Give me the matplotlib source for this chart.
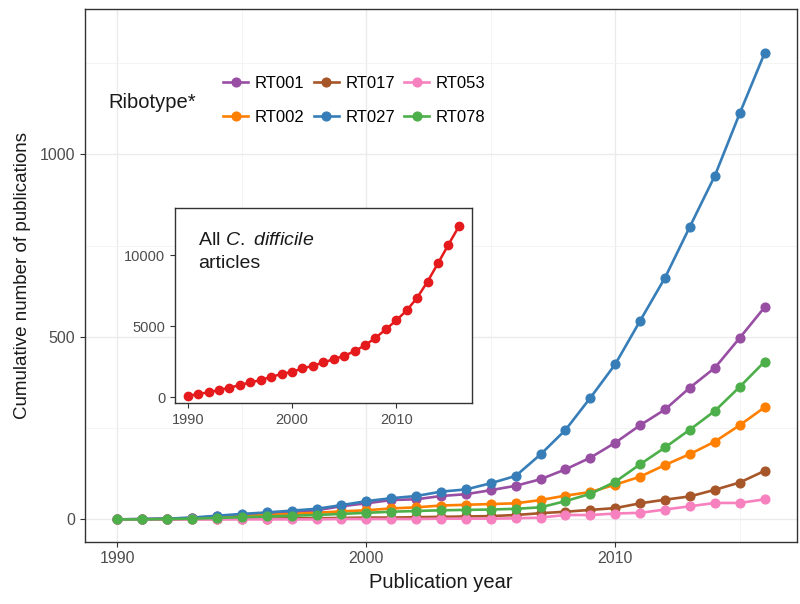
import matplotlib
matplotlib.use("Agg")
import matplotlib.pyplot as plt
from matplotlib.ticker import MultipleLocator

plt.rcParams["font.family"] = ["Liberation Sans", "DejaVu Sans"]
plt.rcParams["mathtext.fontset"] = "custom"
plt.rcParams["mathtext.rm"] = "Liberation Sans"
plt.rcParams["mathtext.it"] = "Liberation Sans:italic"

years = list(range(1990, 2017))

ribotypes = ["RT001", "RT002", "RT017", "RT027", "RT053", "RT078"]
colors = ["#984EA3", "#FF7F00", "#A65628", "#377EB8", "#F781BF", "#4DAF4A"]

rt001 = [0, 1, 2, 4, 8, 12, 16, 20, 25, 36, 44, 53, 55, 64, 69, 80, 92, 110,
         137, 169, 210, 258, 301, 361, 415, 497, 581]
rt002 = [0, 0, 1, 3, 6, 9, 12, 15, 18, 22, 25, 30, 33, 38, 40, 42, 44, 53,
         65, 75, 95, 117, 149, 179, 213, 258, 307]
rt017 = [0, 0, 0, 1, 1, 2, 2, 3, 3, 4, 5, 5, 6, 7, 8, 9, 12, 17,
         21, 26, 31, 44, 54, 63, 81, 101, 133]
rt027 = [0, 1, 2, 5, 10, 15, 19, 24, 29, 39, 50, 58, 64, 76, 82, 99, 119, 178,
         245, 333, 425, 544, 662, 802, 941, 1112, 1277]
rt053 = [0, 0, 0, 0, 0, 0, 0, 0, 0, 1, 1, 1, 1, 2, 2, 2, 3, 5,
         12, 12, 16, 18, 27, 36, 45, 45, 55]
rt078 = [0, 0, 1, 2, 4, 6, 8, 10, 12, 15, 18, 21, 23, 25, 26, 27, 29, 33,
         50, 70, 103, 151, 197, 246, 297, 363, 432]
series = [rt001, rt002, rt017, rt027, rt053, rt078]

all_articles = [93, 234, 350, 514, 678, 864, 1051, 1215, 1449, 1636, 1799,
                2033, 2220, 2453, 2687, 2921, 3248, 3668, 4182, 4790, 5421,
                6121, 7009, 8154, 9439, 10748, 12033]

fig = plt.figure(figsize=(8, 6.04), dpi=100)
ax = fig.add_axes([0.10625, 0.1032, 0.89, 0.8815])

for name, vals, c in zip(ribotypes, series, colors):
    ax.plot(years, vals, color=c, lw=1.9, marker="o", ms=6.3, label=name)

ax.set_xlim(1988.7, 2017.3)
ax.set_ylim(-61, 1397)
ax.xaxis.set_major_locator(MultipleLocator(10))
ax.xaxis.set_minor_locator(MultipleLocator(5))
ax.yaxis.set_major_locator(MultipleLocator(500))
ax.yaxis.set_minor_locator(MultipleLocator(250))
ax.grid(which="major", color="#EBEBEB", lw=1.0)
ax.grid(which="minor", color="#F2F2F2", lw=0.6)
ax.set_axisbelow(True)
ax.tick_params(which="major", length=3.5, width=0.8, color="#333333",
               labelcolor="#4D4D4D", labelsize=11.5)
ax.tick_params(which="minor", length=0)
for s in ax.spines.values():
    s.set_color("#333333")
    s.set_linewidth(1.0)

ax.set_xlabel("Publication year", fontsize=14.5, color="#1A1A1A", labelpad=5)
ax.set_ylabel("Cumulative number of publications", fontsize=13.5,
              color="#1A1A1A", labelpad=6)

leg = fig.legend(loc="upper left", bbox_to_anchor=(223 / 800, 1 - 76 / 604),
                 ncol=3, frameon=False, fontsize=12, handlelength=1.5,
                 handletextpad=0.4, columnspacing=0.55, labelspacing=1.15,
                 borderpad=0, borderaxespad=0)
fig.text(108 / 800, 1 - 102 / 604, "Ribotype*", fontsize=14.5,
         color="#1A1A1A", va="center", ha="left")

ins = fig.add_axes([0.219, 0.3323, 0.371, 0.3238])
ins.plot(years, all_articles, color="#E41A1C", lw=1.8, marker="o", ms=6.0)
ins.set_xlim(1988.8, 2017.26)
ins.set_ylim(-420, 13350)
ins.xaxis.set_major_locator(MultipleLocator(10))
ins.yaxis.set_major_locator(MultipleLocator(5000))
ins.tick_params(length=3.5, width=0.8, color="#333333",
                labelcolor="#4D4D4D", labelsize=10.5)
for s in ins.spines.values():
    s.set_color("#333333")
    s.set_linewidth(1.0)
ins.text(198 / 800, 1 - 245 / 604, "All $\\it{C.\\ difficile}$",
         transform=fig.transFigure, fontsize=14, color="#1A1A1A",
         va="baseline", ha="left")
ins.text(198 / 800, 1 - 268 / 604, "articles",
         transform=fig.transFigure, fontsize=14, color="#1A1A1A",
         va="baseline", ha="left")

fig.savefig("out.png", dpi=100)
